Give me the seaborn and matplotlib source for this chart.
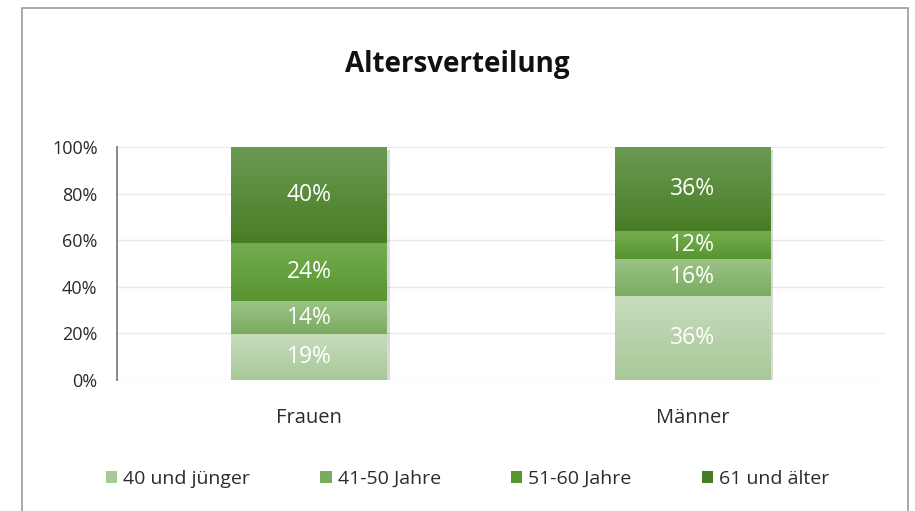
import matplotlib
matplotlib.use("Agg")
import matplotlib.pyplot as plt
import matplotlib.patheffects as pe
from matplotlib.patches import Patch, Rectangle
from matplotlib.colors import LinearSegmentedColormap
import seaborn as sns
import numpy as np
import pandas as pd

# data (labels as shown in the chart, 100% stacked)
groups = ["Frauen", "Männer"]
age_classes = ["40 und jünger", "41-50 Jahre", "51-60 Jahre", "61 und älter"]
frauen = [19, 14, 24, 40]
maenner = [36, 16, 12, 36]

# gradient colours per segment (top, bottom)
seg_colors = [("#c7dcbd", "#a8c898"),
              ("#9dc488", "#7aab5f"),
              ("#74ad4f", "#57952f"),
              ("#6b9a53", "#487d25")]

df = pd.DataFrame({"Frauen": frauen, "Männer": maenner}, index=age_classes)
shares = df / df.sum(axis=0)

sns.set_theme(style="white")
plt.rcParams['font.family'] = ['Open Sans', 'DejaVu Sans']

fig = plt.figure(figsize=(9.15, 5.11), dpi=100)
ax = fig.add_axes([0.1279, 0.2564, 0.839, 0.456])

bottom = np.zeros(len(groups))
for i, cls in enumerate(age_classes):
    vals = shares.loc[cls].values
    sns.barplot(x=groups, y=vals, bottom=bottom, color=seg_colors[i][1],
                width=0.406, saturation=1, linewidth=0, ax=ax)
    bottom = bottom + vals

# gradient fill + soft shadow per bar segment
grad = np.linspace(0, 1, 256).reshape(-1, 1)
for k, p in enumerate(ax.patches):
    i = k // len(groups)
    cmap = LinearSegmentedColormap.from_list("g", [seg_colors[i][0], seg_colors[i][1]])
    x0, y0 = p.get_x(), p.get_y()
    w, h = p.get_width(), p.get_height()
    p.set_path_effects([pe.SimplePatchShadow(offset=(2, -2), alpha=0.22, shadow_rgbFace="#555555"),
                        pe.Normal()])
    img = ax.imshow(grad, cmap=cmap, aspect="auto", extent=(x0, x0 + w, y0, y0 + h),
                    origin="upper", zorder=p.get_zorder() + 0.1)
    img.set_clip_path(p)

# data labels
for j, g in enumerate(groups):
    base = 0
    for i, cls in enumerate(age_classes):
        s = shares.loc[cls, g]
        ax.text(j, base + s / 2, f"{df.loc[cls, g]}%", ha="center", va="center",
                color="white", fontsize=16.5, zorder=5)
        base += s

ax.set_xlim(-0.5, 1.5)
ax.set_ylim(0, 1)
ticks = np.arange(0, 1.01, 0.2)
ax.set_yticks(ticks)
ax.set_yticklabels([f"{int(round(t * 100))}%" for t in ticks], fontsize=13, color="#2b2b2b")
ax.tick_params(axis="x", length=0, labelsize=14.5, labelcolor="#2b2b2b", pad=20)
ax.tick_params(axis="y", length=5, width=1.2, color="#888888", direction="out", pad=9)
ax.yaxis.grid(True, color="#e8e8e8", linewidth=1)
ax.set_axisbelow(True)
ax.set_xlabel("")
ax.set_ylabel("")
for side in ["top", "right", "bottom"]:
    ax.spines[side].set_visible(False)
ax.spines["left"].set_color("#888888")
ax.spines["left"].set_linewidth(1.4)

fig.text(0.5, 0.873, "Altersverteilung", ha="center", va="center",
         fontsize=20, fontweight="bold", color="#111111")

handles = [Patch(facecolor=seg_colors[i][1], edgecolor="none") for i in range(4)]
fig.legend(handles, age_classes, loc="center", bbox_to_anchor=(0.511, 0.063), ncol=4,
           frameon=False, fontsize=14, handlelength=0.6, handleheight=0.6,
           handletextpad=0.3, columnspacing=3.6, labelcolor="#2b2b2b")

# chart frame
fig.patches.append(Rectangle((22 / 915, -0.1), 886 / 915, 1.084, transform=fig.transFigure,
                             fill=False, edgecolor="#9a9a9a", linewidth=1.2))

fig.savefig("out.png", dpi=100)
